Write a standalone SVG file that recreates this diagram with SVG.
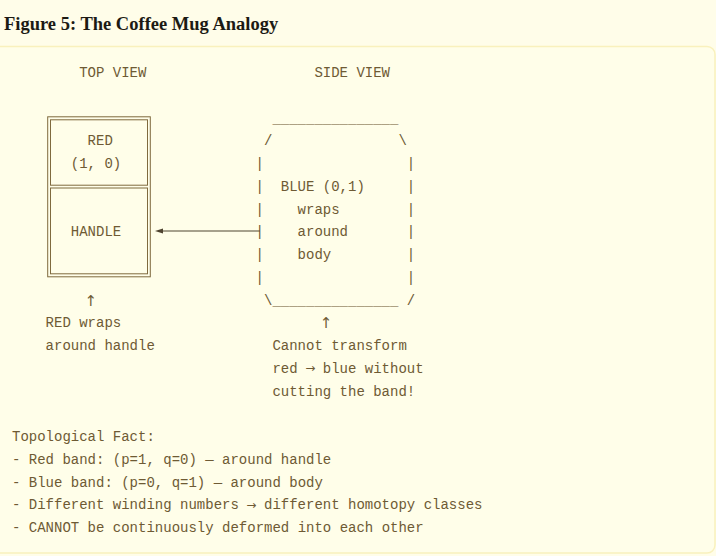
<svg xmlns="http://www.w3.org/2000/svg" width="716" height="556" viewBox="0 0 716 556">
<defs>
<style>
.bg{fill:#fffde9}
.panel{fill:#fffee9;stroke:#f9f1bd;stroke-width:1.5}
.title{font-family:"Liberation Serif","Times New Roman",serif;font-weight:bold;font-size:18.5px;fill:#1c1a14}
.m{font-family:"Liberation Mono","DejaVu Sans Mono",monospace;font-size:14px;fill:#6e5a34;white-space:pre}
.ar{font-family:"DejaVu Sans","Liberation Sans",sans-serif;font-size:12px;fill:#6e5a34;text-anchor:middle}
.up{font-size:15px}
.box{fill:none;stroke:#7f6a3e;stroke-width:1}
.conn{stroke:#4f4430;stroke-width:1.2;fill:none}
</style>
<marker id="ah" viewBox="0 0 8 6" refX="0" refY="3" markerWidth="8" markerHeight="6" markerUnits="userSpaceOnUse" orient="auto">
<path d="M0,0.6 L8,3 L0,5.4 Z" fill="#4f4430"/>
</marker>
</defs>
<rect class="bg" x="0" y="0" width="716" height="556"/>
<rect class="panel" x="-20" y="46.5" width="735" height="506.5" rx="8"/>
<text class="title" x="4" y="29.5">Figure 5: The Coffee Mug Analogy</text>

<g id="view-labels">
<text class="m" x="79.2" y="77">TOP VIEW</text>
<text class="m" x="314.4" y="77">SIDE VIEW</text>
</g>

<g id="top-view">
<rect class="box" x="47.7" y="116.8" width="102.6" height="160"/>
<rect class="box" x="50.5" y="119.8" width="97" height="65.4"/>
<rect class="box" x="50.5" y="188" width="97" height="85.8"/>
<text class="m" x="87.6" y="145.25">RED</text>
<text class="m" x="70.8" y="168">(1, 0)</text>
<text class="m" x="70.8" y="236.25">HANDLE</text>
</g>

<g id="side-view" xml:space="preserve">
<text class="m" x="255.6" y="122.5">  _______________</text>
<text class="m" x="255.6" y="145.25"> /               \</text>
<text class="m" x="255.6" y="168">|                 |</text>
<text class="m" x="255.6" y="190.75">|  BLUE (0,1)     |</text>
<text class="m" x="255.6" y="213.5">|    wraps        |</text>
<text class="m" x="255.6" y="236.25">|    around       |</text>
<text class="m" x="255.6" y="259">|    body         |</text>
<text class="m" x="255.6" y="281.75">|                 |</text>
<text class="m" x="255.6" y="304.5"> \_______________ /</text>
</g>

<g id="connectors">
<path class="conn" d="M259.8,231 H163" marker-end="url(#ah)"/>
</g>

<g id="red-note">
<text class="ar up" x="90.8" y="305.5">↑</text>
<text class="m" x="45.6" y="327.25">RED wraps</text>
<text class="m" x="45.6" y="350">around handle</text>
</g>

<g id="blue-note">
<text class="ar up" x="326" y="328">↑</text>
<text class="m" x="272.4" y="350">Cannot transform</text>
<text class="m" y="372.75"><tspan x="272.4">red</tspan><tspan x="322.8">blue without</tspan></text>
<text class="ar" x="310.2" y="372">→</text>
<text class="m" x="272.4" y="395.5">cutting the band!</text>
</g>

<g id="topological-fact">
<text class="m" x="12" y="441">Topological Fact:</text>
<text class="m" x="12" y="463.75">- Red band: (p=1, q=0) — around handle</text>
<text class="m" x="12" y="486.5">- Blue band: (p=0, q=1) — around body</text>
<text class="m" y="509.25"><tspan x="12">- Different winding numbers</tspan><tspan x="264">different homotopy classes</tspan></text>
<text class="ar" x="251.4" y="508.5">→</text>
<text class="m" x="12" y="532">- CANNOT be continuously deformed into each other</text>
</g>
</svg>
